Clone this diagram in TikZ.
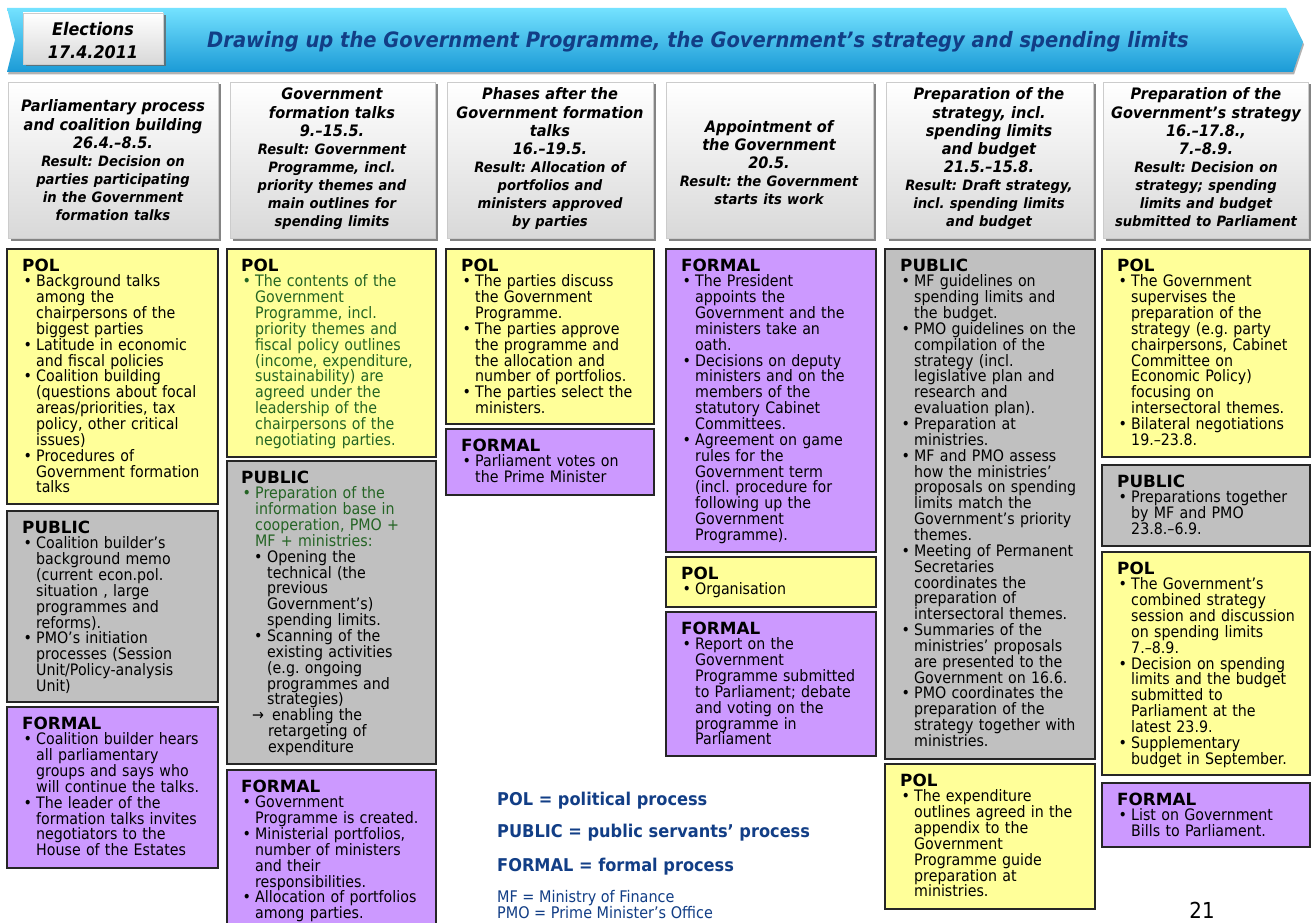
\documentclass[tikz,border=0pt]{standalone}
\usepackage{fontspec}
\setmainfont[FakeStretch=0.9]{DejaVu Sans}
\newfontfamily\headfont{DejaVu Sans}
\newfontfamily\phasefont[FakeStretch=0.92]{DejaVu Sans}
\usetikzlibrary{shadows}
\frenchspacing

\definecolor{polyellow}{HTML}{FFFF99}
\definecolor{pubgray}{HTML}{C0C0C0}
\definecolor{frmviolet}{HTML}{CC99FF}
\definecolor{titleblue}{HTML}{123E86}
\definecolor{talkgreen}{HTML}{246424}
\definecolor{bannertop}{HTML}{74E2FF}
\definecolor{bannerbot}{HTML}{1B9AD6}

\newcommand{\bodyfont}{\fontsize{15.8}{15.85}\selectfont\lineskiplimit=-20pt\relax}
\newcommand{\boxhead}[1]{{\headfont\bfseries\fontsize{16.8}{15.85}\selectfont #1}}
\newcommand{\itm}{\hspace*{1.5pt}\makebox[12.5pt][l]{\textbullet}}
\newcommand{\nxt}{\hspace*{14pt}}
\newcommand{\subitm}{\hspace*{13pt}\makebox[13pt][l]{\textbullet}}
\newcommand{\subnxt}{\hspace*{26pt}}
\newcommand{\phbig}{\fontsize{15.8}{18.1}\selectfont\lineskiplimit=-20pt\relax}
\newcommand{\phsml}{\fontsize{14.3}{18.1}\selectfont}

\tikzset{
  polbox/.style={draw=black!85, line width=2pt, fill=polyellow},
  pubbox/.style={draw=black!85, line width=2pt, fill=pubgray},
  frmbox/.style={draw=black!85, line width=2pt, fill=frmviolet},
  phasebox/.style={draw=gray!40, line width=0.5pt, top color=white, bottom color=gray!30,
    drop shadow={shadow xshift=2.5pt, shadow yshift=-2.5pt, fill=black!60, opacity=0.8}},
  banner/.style={top color=bannertop, bottom color=bannerbot,
    drop shadow={shadow xshift=1pt, shadow yshift=-2.5pt, opacity=0.6}},
  boxtext/.style={anchor=base west, inner sep=0pt, text width=195pt, align=left, font=\bodyfont},
  phasetext/.style={anchor=base, inner sep=0pt, text width=205pt, align=center,
    font=\phasefont\bfseries\itshape\phbig},
  legend/.style={anchor=base west, inner sep=0pt, text=titleblue}
}

\begin{document}
\begin{tikzpicture}[x=1pt, y=-1pt]
\path[fill=white] (0,0) rectangle (1311,923);
\useasboundingbox (0,0) rectangle (1311,923);

% banner
\path[banner] (7,8) -- (1286,8) -- (1303,42) -- (1293,72) -- (7,72) -- (15,40) -- cycle;
\node[anchor=base, inner sep=0pt, text=titleblue, font=\phasefont\bfseries\itshape\fontsize{21.2}{24}\selectfont] (title) at (698,48)
  {Drawing up the Government Programme, the Government’s strategy and spending limits};
\draw[phasebox] (23,13) rectangle (163,64);
\node[phasetext, text width=130pt, font=\phasefont\bfseries\itshape\fontsize{17.4}{23}\selectfont] (elect) at (93,36) {Elections\\17.4.2011};

% phase headers
\draw[phasebox] (8,82) rectangle (218,238);
\draw[phasebox] (230,82) rectangle (435,238);
\draw[phasebox] (447,82) rectangle (653,238);
\draw[phasebox] (666,82) rectangle (873,238);
\draw[phasebox] (886,82) rectangle (1093,238);
\draw[phasebox] (1103,82) rectangle (1308,238);
\node[phasetext] (ph1) at (113,112) {Parliamentary process\\and coalition building\\26.4.–8.5.\\
  \phsml Result: Decision on\\parties participating\\in the Government\\formation talks};
\node[phasetext] (ph2) at (332,100) {Government\\formation talks\\9.–15.5.\\
  \phsml Result: Government\\Programme, incl.\\priority themes and\\main outlines for\\spending limits};
\node[phasetext] (ph3) at (550,100) {Phases after the\\Government formation\\talks\\16.–19.5.\\
  \phsml Result: Allocation of\\portfolios and\\ministers approved\\by parties};
\node[phasetext] (ph4) at (769,132) {Appointment of\\the Government\\20.5.\\
  \phsml Result: the Government\\starts its work};
\node[phasetext] (ph5) at (989,100) {Preparation of the\\strategy, incl.\\spending limits\\and budget\\21.5.–15.8.\\
  \phsml Result: Draft strategy,\\incl. spending limits\\and budget};
\node[phasetext] (ph6) at (1206,100) {Preparation of the\\Government’s strategy\\16.–17.8.,\\7.–8.9.\\
  \phsml Result: Decision on\\strategy; spending\\limits and budget\\submitted to Parliament};

% process boxes
\draw[polbox] (7,249) rectangle (218,504);
\draw[pubbox] (7,511) rectangle (218,702);
\draw[frmbox] (7,707) rectangle (218,868);
\draw[polbox] (227,249) rectangle (436,457);
\draw[pubbox] (227,461) rectangle (436,764);
\draw[frmbox] (227,770) rectangle (436,935);
\draw[polbox] (446,249) rectangle (654,424);
\draw[frmbox] (446,429) rectangle (654,495);
\draw[frmbox] (666,249) rectangle (876,552);
\draw[polbox] (666,557) rectangle (876,607);
\draw[frmbox] (666,612) rectangle (876,756);
\draw[pubbox] (885,249) rectangle (1095,759);
\draw[polbox] (885,764) rectangle (1095,909);
\draw[polbox] (1102,249) rectangle (1310,457);
\draw[pubbox] (1102,465) rectangle (1310,546);
\draw[polbox] (1102,552) rectangle (1310,775);
\draw[frmbox] (1102,783) rectangle (1310,847);

% column 1
\node[boxtext] (c1pol) at (22,271) {\boxhead{POL}\\
\itm Background talks\\
\nxt among the\\
\nxt chairpersons of the\\
\nxt biggest parties\\
\itm Latitude in economic\\
\nxt and fiscal policies\\
\itm Coalition building\\
\nxt (questions about focal\\
\nxt areas/priorities, tax\\
\nxt policy, other critical\\
\nxt issues)\\
\itm Procedures of\\
\nxt Government formation\\
\nxt talks};
\node[boxtext] (c1pub) at (22,533) {\boxhead{PUBLIC}\\
\itm Coalition builder’s\\
\nxt background memo\\
\nxt (current econ.pol.\\
\nxt situation , large\\
\nxt programmes and\\
\nxt reforms).\\
\itm PMO’s initiation\\
\nxt processes (Session\\
\nxt Unit/Policy-analysis\\
\nxt Unit)};
\node[boxtext] (c1frm) at (22,729) {\boxhead{FORMAL}\\
\itm Coalition builder hears\\
\nxt all parliamentary\\
\nxt groups and says who\\
\nxt will continue the talks.\\
\itm The leader of the\\
\nxt formation talks invites\\
\nxt negotiators to the\\
\nxt House of the Estates};

% column 2
\node[boxtext] (c2pol) at (241,271) {\boxhead{POL}\\ \color{talkgreen}
\itm The contents of the\\
\nxt Government\\
\nxt Programme, incl.\\
\nxt priority themes and\\
\nxt fiscal policy outlines\\
\nxt (income, expenditure,\\
\nxt sustainability) are\\
\nxt agreed under the\\
\nxt leadership of the\\
\nxt chairpersons of the\\
\nxt negotiating parties.};
\node[boxtext] (c2pub) at (241,483) {\boxhead{PUBLIC}\\ \color{talkgreen}
\itm Preparation of the\\
\nxt information base in\\
\nxt cooperation, PMO +\\
\nxt MF + ministries:\\ \color{black}
\subitm Opening the\\
\subnxt technical (the\\
\subnxt previous\\
\subnxt Government’s)\\
\subnxt spending limits.\\
\subitm Scanning of the\\
\subnxt existing activities\\
\subnxt (e.g. ongoing\\
\subnxt programmes and\\
\subnxt strategies)\\
\hspace*{11pt}→\hspace*{8pt}enabling the\\
\hspace*{27pt}retargeting of\\
\hspace*{27pt}expenditure};
\node[boxtext] (c2frm) at (241,792) {\boxhead{FORMAL}\\
\itm Government\\
\nxt Programme is created.\\
\itm Ministerial portfolios,\\
\nxt number of ministers\\
\nxt and their\\
\nxt responsibilities.\\
\itm Allocation of portfolios\\
\nxt among parties.};

% column 3
\node[boxtext] (c3pol) at (461,271) {\boxhead{POL}\\
\itm The parties discuss\\
\nxt the Government\\
\nxt Programme.\\
\itm The parties approve\\
\nxt the programme and\\
\nxt the allocation and\\
\nxt number of portfolios.\\
\itm The parties select the\\
\nxt ministers.};
\node[boxtext] (c3frm) at (461,451) {\boxhead{FORMAL}\\
\itm Parliament votes on\\
\nxt the Prime Minister};

% column 4
\node[boxtext] (c4frm) at (681,271) {\boxhead{FORMAL}\\
\itm The President\\
\nxt appoints the\\
\nxt Government and the\\
\nxt ministers take an\\
\nxt oath.\\
\itm Decisions on deputy\\
\nxt ministers and on the\\
\nxt members of the\\
\nxt statutory Cabinet\\
\nxt Committees.\\
\itm Agreement on game\\
\nxt rules for the\\
\nxt Government term\\
\nxt (incl. procedure for\\
\nxt following up the\\
\nxt Government\\
\nxt Programme).};
\node[boxtext] (c4pol) at (681,579) {\boxhead{POL}\\
\itm Organisation};
\node[boxtext] (c4rep) at (681,634) {\boxhead{FORMAL}\\
\itm Report on the\\
\nxt Government\\
\nxt Programme submitted\\
\nxt to Parliament; debate\\
\nxt and voting on the\\
\nxt programme in\\
\nxt Parliament};

% column 5
\node[boxtext] (c5pub) at (900,271) {\boxhead{PUBLIC}\\
\itm MF guidelines on\\
\nxt spending limits and\\
\nxt the budget.\\
\itm PMO guidelines on the\\
\nxt compilation of the\\
\nxt strategy (incl.\\
\nxt legislative plan and\\
\nxt research and\\
\nxt evaluation plan).\\
\itm Preparation at\\
\nxt ministries.\\
\itm MF and PMO assess\\
\nxt how the ministries’\\
\nxt proposals on spending\\
\nxt limits match the\\
\nxt Government’s priority\\
\nxt themes.\\
\itm Meeting of Permanent\\
\nxt Secretaries\\
\nxt coordinates the\\
\nxt preparation of\\
\nxt intersectoral themes.\\
\itm Summaries of the\\
\nxt ministries’ proposals\\
\nxt are presented to the\\
\nxt Government on 16.6.\\
\itm PMO coordinates the\\
\nxt preparation of the\\
\nxt strategy together with\\
\nxt ministries.};
\node[boxtext] (c5pol) at (900,786) {\boxhead{POL}\\
\itm The expenditure\\
\nxt outlines agreed in the\\
\nxt appendix to the\\
\nxt Government\\
\nxt Programme guide\\
\nxt preparation at\\
\nxt ministries.};

% column 6
\node[boxtext] (c6pol) at (1117,271) {\boxhead{POL}\\
\itm The Government\\
\nxt supervises the\\
\nxt preparation of the\\
\nxt strategy (e.g. party\\
\nxt chairpersons, Cabinet\\
\nxt Committee on\\
\nxt Economic Policy)\\
\nxt focusing on\\
\nxt intersectoral themes.\\
\itm Bilateral negotiations\\
\nxt 19.–23.8.};
\node[boxtext] (c6pub) at (1117,487) {\boxhead{PUBLIC}\\
\itm Preparations together\\
\nxt by MF and PMO\\
\nxt 23.8.–6.9.};
\node[boxtext] (c6dec) at (1117,574) {\boxhead{POL}\\
\itm The Government’s\\
\nxt combined strategy\\
\nxt session and discussion\\
\nxt on spending limits\\
\nxt 7.–8.9.\\
\itm Decision on spending\\
\nxt limits and the budget\\
\nxt submitted to\\
\nxt Parliament at the\\
\nxt latest 23.9.\\
\itm Supplementary\\
\nxt budget in September.};
\node[boxtext] (c6frm) at (1117,805) {\boxhead{FORMAL}\\
\itm List on Government\\
\nxt Bills to Parliament.};

% legend
\node[legend, font=\phasefont\bfseries\fontsize{17.6}{20}\selectfont] (legpol) at (497,805) {POL = political process};
\node[legend, font=\phasefont\bfseries\fontsize{17.6}{20}\selectfont] (legpub) at (497,837) {PUBLIC = public servants’ process};
\node[legend, font=\phasefont\bfseries\fontsize{17.6}{20}\selectfont] (legfrm) at (497,871) {FORMAL = formal process};
\node[legend, font=\fontsize{16}{16}\selectfont] (legmf) at (497,902) {MF = Ministry of Finance};
\node[legend, font=\fontsize{16}{16}\selectfont] (legpmo) at (497,918) {PMO = Prime Minister’s Office};
\node[anchor=base, inner sep=0pt, font=\fontsize{22}{24}\selectfont] (pagenum) at (1202,918) {21};
\end{tikzpicture}
\end{document}
